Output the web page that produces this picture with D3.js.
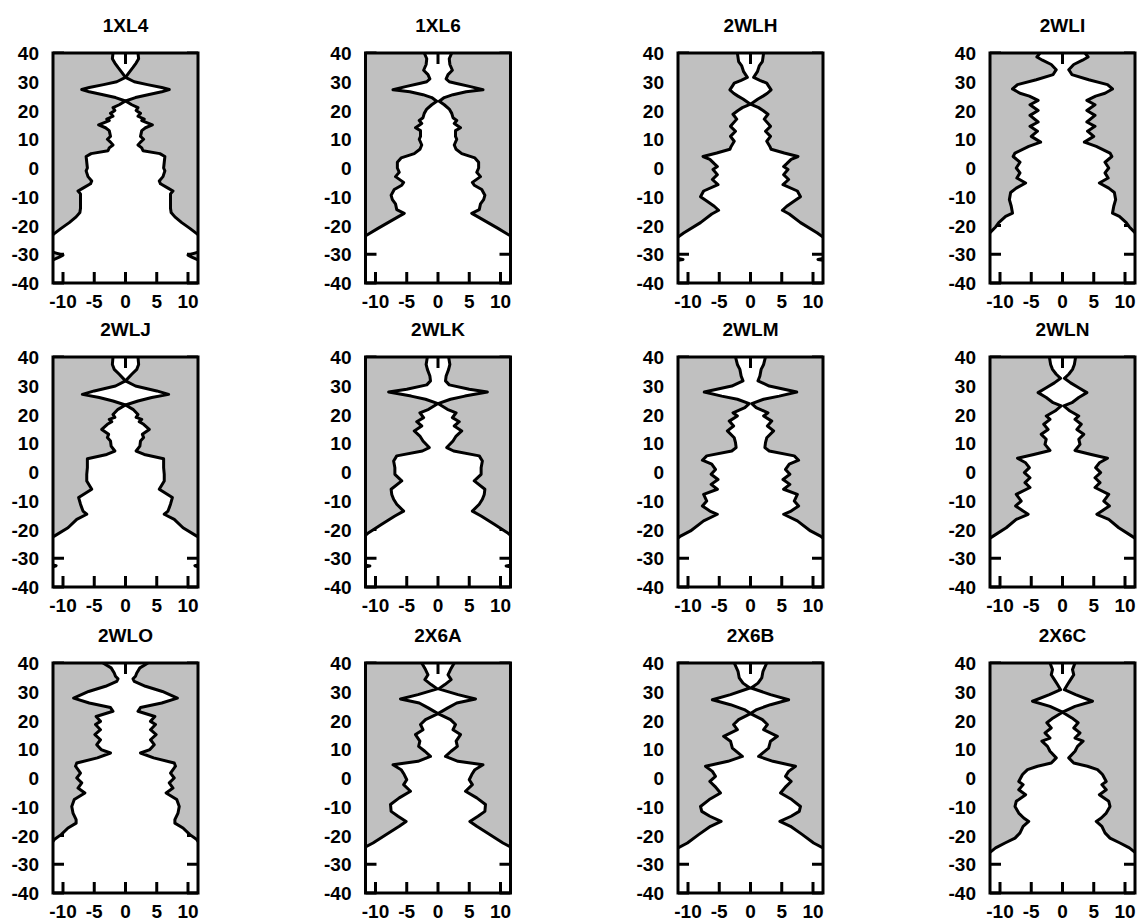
<!DOCTYPE html>
<html>
<head>
<meta charset="utf-8">
<script src="https://cdn.jsdelivr.net/npm/d3@7"></script>
<style>
  html, body { margin: 0; padding: 0; background: #fff; }
  svg { display: block; }
  text { font-family: "Liberation Sans", Arial, Helvetica, sans-serif; font-weight: bold; fill: #000; }
</style>
</head>
<body>
<svg id="chart" width="1140" height="922"></svg>
<script>
// ---------------- DATA ----------------
const panelNames = ["1XL4","1XL6","2WLH","2WLI","2WLJ","2WLK","2WLM","2WLN","2WLO","2X6A","2X6B","2X6C"];
const xTickValues = [-10, -5, 0, 5, 10];
const yTickValues = [-40, -30, -20, -10, 0, 10, 20, 30, 40];

// Pore radius profiles: [z (Å), radius (Å)]
const prof_1XL4 = [[40,2.0],[38,2.1],[36.5,1.7],[35,1.2],[33,0.5],[31.5,0],[30,1.4],[29,3.5],[28,5.8],[27.3,7.0],[26.5,5.8],[25.5,3.6],[24.5,1.6],[23.3,0],[22,1.0],[21,2.0],[20,1.7],[19,2.4],[18,2.0],[17,3.0],[16.5,2.6],[15,4.3],[14,3.2],[13,2.6],[11,2.4],[10,2.9],[9,2.4],[8,2.0],[7,2.6],[6,2.8],[5,5.5],[4,6.3],[2,6.2],[0,6.1],[-1,6.3],[-3,6.0],[-4.5,5.4],[-5.5,5.6],[-7,6.8],[-8,7.6],[-9,7.2],[-12,7.2],[-14,7.2],[-15.5,7.3],[-17,7.9],[-19,9.0],[-21,10.3],[-23,11.5],[-25,12.5],[-28,13],[-29.3,11.6],[-30.3,10.0],[-31,10.6],[-32,11.6],[-33,12.5],[-40,13]];
const prof_1XL6 = [[40,2.2],[38,1.8],[36,1.9],[34,2.3],[32.5,1.6],[31,1.3],[30,1.8],[29.5,2.8],[28.3,5.2],[27.2,7.2],[26.5,4.5],[25.5,2.4],[24.5,1.0],[23.2,0.2],[22,1.0],[20.5,1.8],[19,2.2],[17.5,2.4],[16.5,3.0],[15.5,2.6],[14,3.6],[13,2.8],[11,2.8],[10,3.0],[8,2.6],[6.5,2.9],[5,3.8],[3.5,5.9],[2,6.5],[0,6.5],[-1.5,6.2],[-3,6.8],[-5,5.5],[-6,5.8],[-7.5,7.0],[-9.5,7.5],[-11,7.3],[-12.5,6.8],[-14.5,6.6],[-15.8,5.4],[-17,6.4],[-19,8.0],[-21,9.6],[-23.5,11.5],[-26,13],[-40,13]];
const prof_2WLH = [[40,2.1],[37,1.9],[35.5,1.4],[33.5,1.1],[31.5,0.5],[30.5,1.5],[29.5,2.6],[28.5,2.9],[27.2,3.3],[26,2.7],[25,2.0],[24,1.2],[22.2,0],[21,1.3],[20,2.0],[18.7,2.8],[17,2.2],[14.5,3.2],[12.8,2.4],[11,3.2],[9.3,2.6],[7.5,3.1],[6.5,3.3],[5.2,5.4],[4,7.6],[3,6.5],[1.5,5.8],[0.5,5.3],[-0.5,6.0],[-2.3,5.3],[-4,6.1],[-5.8,5.2],[-8,7.5],[-10,8.0],[-11.5,7.0],[-13.3,5.8],[-14.7,5.1],[-16,6.2],[-19,8.0],[-22.6,10.7],[-24,11.6],[-26,13],[-31,13],[-31.5,11.6],[-31.8,10.8],[-32.1,11.6],[-33,13],[-40,13]];
const prof_2WLI = [[40,3.6],[38.6,4.1],[37.5,3.2],[36,1.8],[34.2,1.0],[32.5,1.5],[30.7,4.2],[29,7.2],[27.5,8.0],[26,6.8],[25,5.3],[23.5,3.9],[22,5.2],[20,3.9],[18.3,5.2],[16,3.9],[14.5,5.2],[12.8,4.0],[11,5.0],[9,3.5],[7.5,5.4],[5.2,7.6],[4,7.9],[2,6.8],[0,7.4],[-1.7,6.8],[-3.5,7.3],[-5.2,5.9],[-7,7.4],[-8.5,8.3],[-11,8.5],[-13.3,8.2],[-15.7,8.0],[-16.8,9.1],[-19,10.2],[-20.5,10.7],[-22.5,11.6],[-25,13],[-40,13]];
const prof_2WLJ = [[40,2.0],[37.4,2.1],[35.7,1.8],[34,1.0],[31.7,0],[29.9,1.6],[28.2,5.0],[27,6.9],[25.9,4.2],[24.7,2.0],[23.3,0],[21.8,1.2],[20,2.0],[19,1.7],[18.3,2.6],[17.5,2.2],[16.6,2.9],[14.8,3.8],[13.1,2.7],[12,2.9],[10.8,2.4],[9,2.3],[7.3,1.7],[6.1,3.0],[4.6,6.1],[1.5,6.1],[-0.8,6.2],[-3.1,6.2],[-6,5.4],[-8.9,7.5],[-11.2,7.2],[-13.6,6.8],[-14.7,6.2],[-16.5,7.8],[-19.4,9.2],[-22.3,11.4],[-24,12.5],[-31.5,13],[-32.3,11.6],[-32.6,11.1],[-33,11.6],[-34,13],[-40,13]];
const prof_2WLK = [[40,1.7],[37.4,1.9],[35.7,1.7],[33.4,1.3],[31.7,1.2],[30.3,1.8],[28.8,5.0],[27.8,7.9],[26.4,4.3],[25.3,2.0],[23.8,0],[21.8,1.5],[20.6,2.9],[18.9,2.3],[17.5,3.4],[16,2.6],[14.3,3.8],[12.5,2.9],[10.8,2.4],[8.5,1.4],[7.3,2.5],[5.6,6.6],[3.8,7.1],[1.5,6.9],[-0.8,6.9],[-3.1,5.8],[-6,7.5],[-7.8,7.4],[-9.5,7.1],[-11.2,6.6],[-13.6,5.5],[-15.3,6.9],[-18.2,9.0],[-21.1,11.1],[-22,11.6],[-24,13],[-32,13],[-32.4,11.6],[-32.7,10.9],[-33,11.6],[-34,13],[-40,13]];
const prof_2WLM = [[40,2.4],[37.4,2.1],[35.7,1.7],[33.4,1.5],[31.7,1.2],[29.9,3.0],[27.8,7.4],[26.4,4.6],[25.3,2.1],[23.8,0.2],[22.4,0.9],[20.6,2.8],[19.5,2.1],[17.7,3.4],[16,2.7],[14.3,3.7],[11.9,2.6],[10.2,2.4],[8.5,2.3],[7.3,3.0],[5.6,7.0],[4.1,7.7],[2.7,6.2],[0.9,5.6],[-0.8,6.3],[-2.6,5.2],[-4.3,6.3],[-6,5.3],[-7.8,7.5],[-10.1,7.0],[-11.8,7.7],[-13.6,6.5],[-14.7,5.3],[-17,7.5],[-20.5,9.6],[-22.3,11.2],[-23,11.6],[-25,13],[-40,13]];
const prof_2WLN = [[40,2.1],[37.4,1.9],[35.7,1.6],[34,1.0],[32.6,0.3],[31,1.3],[29.3,2.6],[27.6,3.9],[25.9,2.6],[24.1,1.5],[23,0.2],[21.2,1.2],[19.5,2.6],[18.3,2.0],[16.6,3.0],[14.8,2.3],[13.1,3.4],[11.4,2.6],[9.6,2.8],[7.5,2.0],[6.1,4.6],[4.8,7.2],[3.2,5.9],[1.5,5.3],[-0.2,6.1],[-2,5.2],[-3.7,6.0],[-5.4,5.2],[-7.8,7.4],[-10.1,6.6],[-11.8,7.5],[-13.6,6.3],[-14.7,5.5],[-16.5,7.4],[-19.4,9.0],[-22.3,11.1],[-23,11.6],[-25,13],[-40,13]];
const prof_2WLO = [[40,3.6],[38.3,2.3],[36.5,1.8],[35.4,1.6],[34.5,1.2],[33.6,1.4],[31.9,3.2],[30.1,5.9],[27.8,8.3],[26.1,5.8],[24.5,2.4],[23.2,2.0],[21.4,4.7],[19.7,4.0],[18.6,4.8],[16.8,4.0],[15.1,4.9],[13.3,4.0],[11.6,4.6],[9.9,3.9],[8.7,2.4],[7,4.5],[5.2,7.8],[4.1,8.0],[1.7,7.2],[0,7.8],[-1.7,7.0],[-3.5,7.6],[-5.2,6.5],[-7.5,8.2],[-9.9,8.6],[-12.2,8.4],[-14.5,7.9],[-15.7,7.9],[-17.4,9.2],[-19.7,10.3],[-21.4,11.4],[-22,11.6],[-24,13],[-40,13]];
const prof_2X6A = [[40,2.6],[37.7,2.0],[35.9,1.6],[34.2,2.1],[32.5,1.1],[31,0.1],[29,3.2],[27.5,6.0],[26.1,3.0],[24.3,1.5],[22.4,0],[20.3,2.0],[18.6,2.8],[16.8,2.4],[15.1,3.6],[12.8,2.9],[11,3.1],[9.3,2.1],[7.5,1.2],[5.8,3.2],[4.6,7.2],[2.9,5.9],[1.2,5.4],[-0.6,5.0],[-2.3,5.5],[-4.6,4.4],[-6.9,6.2],[-9.2,7.6],[-11.6,7.5],[-13.3,6.4],[-15.1,5.1],[-16.8,6.2],[-19.1,7.9],[-22.6,10.4],[-24,11.6],[-26,13],[-40,13]];
const prof_2X6B = [[40,2.6],[37.1,2.0],[34.8,1.8],[33,1.2],[31.3,0.1],[29,3.2],[27.2,6.1],[25.5,3.2],[23.8,1.0],[22.4,0],[20.3,1.9],[18.6,2.7],[16.8,2.1],[14.5,4.3],[12.8,3.2],[10.4,2.9],[7.5,1.3],[5.8,3.6],[4.1,7.2],[2.3,6.1],[0.6,5.6],[-1.2,6.5],[-2.9,5.7],[-5.2,4.8],[-7.5,6.6],[-9.9,8.0],[-11.6,7.8],[-13.3,6.5],[-15.1,4.7],[-16.8,6.4],[-19.7,8.3],[-22.6,10.1],[-24.3,11.6],[-26,13],[-40,13]];
const prof_2X6C = [[40,2.0],[37.7,1.6],[35.9,1.8],[34.2,1.3],[32.5,0.8],[30.7,0.3],[29,2.1],[26.7,4.8],[24.9,2.0],[22.9,0],[20.9,1.5],[19.2,2.5],[17.4,1.8],[15.7,2.8],[13.9,2.0],[12.8,3.3],[11,2.4],[9.3,2.0],[7,1.0],[5.2,1.8],[4.1,4.0],[2.9,5.6],[1.2,6.4],[-1.2,7.0],[-2.3,6.3],[-4.1,7.0],[-5.8,5.9],[-8.1,7.4],[-9.9,7.6],[-12.2,7.0],[-13.9,6.2],[-15.1,5.4],[-16.8,6.3],[-19.1,6.8],[-20.9,7.6],[-22.6,9.2],[-24.3,10.7],[-25.5,11.4],[-26.5,12],[-28,13],[-40,13]];

const profiles = [prof_1XL4, prof_1XL6, prof_2WLH, prof_2WLI, prof_2WLJ, prof_2WLK,
                  prof_2WLM, prof_2WLN, prof_2WLO, prof_2X6A, prof_2X6B, prof_2X6C];

// ---------------- LAYOUT ----------------
const colLefts = [53, 365.5, 678, 990];
const rowTops = [53, 357, 663];
const boxW = 145, boxH = 230;
const xDomain = [-11.6, 11.6], yDomain = [-40, 40];
const tickLen = 11;
const grayFill = "#c0c0c0";

const svg = d3.select("#chart");

panelNames.forEach((name, i) => {
  const col = i % 4, row = Math.floor(i / 4);
  const left = colLefts[col], top = rowTops[row];
  const x = d3.scaleLinear().domain(xDomain).range([left, left + boxW]);
  const y = d3.scaleLinear().domain(yDomain).range([top + boxH, top]);
  const data = profiles[i];

  const g = svg.append("g").attr("class", "panel");
  const clipId = "clip" + i;
  g.append("clipPath").attr("id", clipId)
    .append("rect").attr("x", left).attr("y", top).attr("width", boxW).attr("height", boxH);

  // ticks (drawn first; the gray fill covers them)
  const ticks = g.append("g").attr("stroke", "#000").attr("stroke-width", 3);
  xTickValues.forEach(v => {
    ticks.append("line").attr("x1", x(v)).attr("x2", x(v))
      .attr("y1", top + boxH).attr("y2", top + boxH - tickLen);
    ticks.append("line").attr("x1", x(v)).attr("x2", x(v))
      .attr("y1", top).attr("y2", top + tickLen);
  });
  yTickValues.forEach(v => {
    ticks.append("line").attr("x1", left).attr("x2", left + tickLen)
      .attr("y1", y(v)).attr("y2", y(v));
    ticks.append("line").attr("x1", left + boxW).attr("x2", left + boxW - tickLen)
      .attr("y1", y(v)).attr("y2", y(v));
  });

  const clipped = g.append("g").attr("clip-path", `url(#${clipId})`);
  const areaLeft = d3.area().y(d => y(d[0])).x0(x(xDomain[0])).x1(d => x(-d[1]));
  const areaRight = d3.area().y(d => y(d[0])).x0(d => x(d[1])).x1(x(xDomain[1]));
  clipped.append("path").datum(data).attr("d", areaLeft).attr("fill", grayFill);
  clipped.append("path").datum(data).attr("d", areaRight).attr("fill", grayFill);

  const lineLeft = d3.line().x(d => x(-d[1])).y(d => y(d[0]));
  const lineRight = d3.line().x(d => x(d[1])).y(d => y(d[0]));
  clipped.append("path").datum(data).attr("d", lineLeft)
    .attr("fill", "none").attr("stroke", "#000").attr("stroke-width", 3).attr("stroke-linejoin", "round");
  clipped.append("path").datum(data).attr("d", lineRight)
    .attr("fill", "none").attr("stroke", "#000").attr("stroke-width", 3).attr("stroke-linejoin", "round");

  // frame
  g.append("rect").attr("x", left).attr("y", top).attr("width", boxW).attr("height", boxH)
    .attr("fill", "none").attr("stroke", "#000").attr("stroke-width", 3);

  // tick labels
  xTickValues.forEach(v => {
    g.append("text").attr("x", x(v)).attr("y", top + boxH + 25)
      .attr("text-anchor", "middle").attr("font-size", 19).text(v);
  });
  yTickValues.forEach(v => {
    g.append("text").attr("x", left - 14).attr("y", y(v) + 7)
      .attr("text-anchor", "end").attr("font-size", 19).text(v);
  });

  // title
  g.append("text").attr("x", left + boxW / 2).attr("y", top - 21)
    .attr("text-anchor", "middle").attr("font-size", 19).text(name);
});
</script>
</body>
</html>
